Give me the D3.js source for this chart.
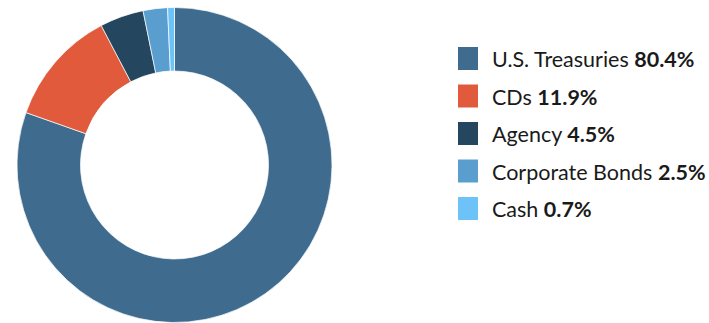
<!DOCTYPE html>
<html><head><meta charset="utf-8">
<script src="https://cdn.jsdelivr.net/npm/d3@7"></script>
<style>body{margin:0;background:#fff;}svg{display:block;}</style>
</head><body>
<svg id="c" width="709" height="323"></svg>
<script>
const categories = ["U.S. Treasuries","CDs","Agency","Corporate Bonds","Cash"];
const values = [80.4, 11.9, 4.5, 2.5, 0.7];
const labels = ["80.4%","11.9%","4.5%","2.5%","0.7%"];
const colors = ["#3e6b8e","#e05a3b","#24475f","#5a9dcf","#6dc3f7"];

const svg = d3.select("#c");
const data = categories.map((c,i)=>({name:c,value:values[i],label:labels[i],color:colors[i]}));
const pie = d3.pie().sort(null).value(d=>d.value);
const arc = d3.arc().innerRadius(94).outerRadius(157.5);
const g = svg.append("g").attr("transform","translate(174.5,165)");
g.selectAll("path").data(pie(data)).join("path")
  .attr("d",arc).attr("fill",d=>d.data.color)
  .attr("stroke","#fff").attr("stroke-width",0.7);

const y = d3.scalePoint().domain(categories).range([59,209]);
const lg = svg.append("g");
const row = lg.selectAll("g").data(data).join("g")
  .attr("transform",d=>`translate(0,${y(d.name)})`);
row.append("rect").attr("x",458).attr("y",-12).attr("width",20).attr("height",23).attr("fill",d=>d.color);
const t = row.append("text").attr("x",492).attr("y",8)
  .attr("font-family","'Source Sans Pro', Lato, sans-serif").attr("font-size",21.5).attr("fill","#1a1a1a");
t.append("tspan").text(d=>d.name+" ");
t.append("tspan").attr("font-weight","bold").text(d=>d.label);
</script>
</body></html>
